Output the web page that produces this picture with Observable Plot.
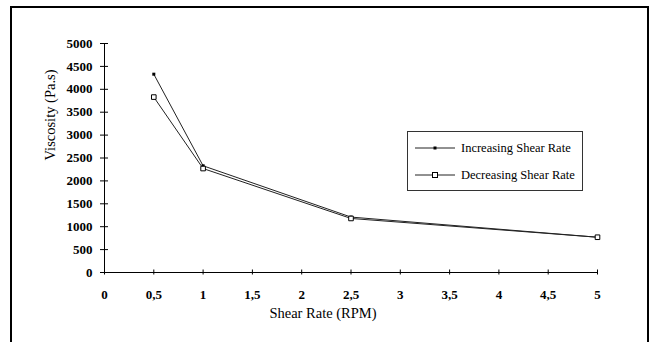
<!DOCTYPE html>
<html>
<head>
<meta charset="utf-8">
<script src="https://cdn.jsdelivr.net/npm/d3@7"></script>
<script src="https://cdn.jsdelivr.net/npm/@observablehq/plot@0.6"></script>
<style>
  html, body { margin: 0; padding: 0; background: #fff; }
  #wrap { position: relative; width: 659px; height: 342px; overflow: hidden; font-family: "Liberation Serif", "Times New Roman", Times, serif; }
  #frame { position: absolute; left: 10px; top: 6px; width: 639px; height: 360px; border: 2px solid #000; box-sizing: border-box; }
  #chart { position: absolute; left: 0; top: 0; }
  #legend { position: absolute; left: 407px; top: 131px; width: 176px; height: 60px; border: 1px solid #333; box-sizing: border-box; background: #fff; font-size: 12.5px; }
  .entry { position: absolute; left: 7px; height: 14px; display: flex; align-items: center; white-space: nowrap; }
  .entry svg { margin-right: 6px; }
</style>
</head>
<body>
<div id="wrap">
  <div id="frame"></div>
  <div id="chart"></div>
  <div id="legend"></div>
</div>
<script>
const shearRate = [0.5, 1, 2.5, 5];
const increasing = [4330, 2330, 1210, 770];
const decreasing = [3830, 2270, 1180, 770];
const xTicks = [0, 0.5, 1, 1.5, 2, 2.5, 3, 3.5, 4, 4.5, 5];
const yTicks = [0, 500, 1000, 1500, 2000, 2500, 3000, 3500, 4000, 4500, 5000];
const seriesNames = ["Increasing Shear Rate", "Decreasing Shear Rate"];
const xTitle = "Shear Rate (RPM)";
const yTitle = "Viscosity (Pa.s)";

const incData = shearRate.map((x, i) => ({x, y: increasing[i]}));
const decData = shearRate.map((x, i) => ({x, y: decreasing[i]}));
const fmtX = d => String(d).replace(".", ",");
const fmtY = d => String(d);
const serif = "'Liberation Serif', 'Times New Roman', Times, serif";

const plot = Plot.plot({
  width: 659,
  height: 342,
  marginLeft: 104,
  marginRight: 62,
  marginTop: 43,
  marginBottom: 70,
  style: {fontFamily: serif, background: "transparent", overflow: "visible"},
  x: {domain: [0, 5]},
  y: {domain: [0, 5000]},
  marks: [
    Plot.ruleY([0], {stroke: "#000"}),
    Plot.ruleX([0], {stroke: "#000"}),
    Plot.axisY(yTicks, {tickSize: 8, dx: 4, tickFormat: () => "", stroke: "#000", label: null}),
    Plot.axisY(yTicks, {tickSize: 0, tickPadding: 12, fontSize: 13, fontWeight: "bold", fill: "#000", tickFormat: fmtY, label: null}),
    Plot.axisX(xTicks, {tickSize: 5, dy: -2.5, tickFormat: () => "", stroke: "#000", label: null}),
    Plot.axisX(xTicks, {tickSize: 0, tickPadding: 17, fontSize: 13, fontWeight: "bold", fill: "#000", tickFormat: fmtX, label: null}),
    Plot.text([xTitle], {frameAnchor: "bottom", textAnchor: "middle", text: d => d, dx: -28, dy: 45, fontSize: 14.5, fill: "#000"}),
    Plot.text([yTitle], {frameAnchor: "left", textAnchor: "middle", text: d => d, rotate: -90, dx: -54, dy: -43, fontSize: 14.5, fill: "#000"}),
    Plot.line(incData, {x: "x", y: "y", stroke: "#222", strokeWidth: 1}),
    Plot.line(decData, {x: "x", y: "y", stroke: "#222", strokeWidth: 1}),
    Plot.dot(incData, {x: "x", y: "y", symbol: "square", r: 1.7, fill: "#000", stroke: "none"}),
    Plot.dot(decData, {x: "x", y: "y", symbol: "square", r: 2.6, fill: "#fff", stroke: "#000", strokeWidth: 1})
  ]
});
document.getElementById("chart").appendChild(plot);

// Legend
const legend = document.getElementById("legend");
seriesNames.forEach((name, i) => {
  const e = document.createElement("div");
  e.className = "entry";
  e.style.top = (i === 0 ? 9 : 36) + "px";
  const marker = i === 0
    ? '<rect x="18.5" y="5.5" width="3" height="3" fill="#000"/>'
    : '<rect x="17.5" y="4.5" width="5" height="5" fill="#fff" stroke="#000"/>';
  e.innerHTML = `<svg width="40" height="14"><line x1="0" y1="7" x2="40" y2="7" stroke="#222"/>${marker}</svg><span>${name}</span>`;
  legend.appendChild(e);
});
</script>
</body>
</html>
